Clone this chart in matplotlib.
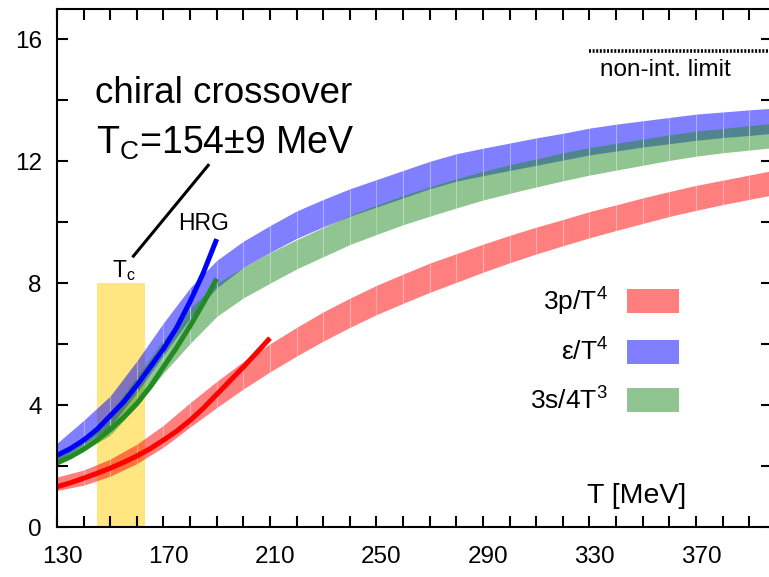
import numpy as np
import matplotlib.pyplot as plt
import matplotlib.transforms as mtransforms
from matplotlib.patches import Patch

plt.rcParams['font.family'] = ['Liberation Sans', 'DejaVu Sans']
plt.rcParams['mathtext.fontset'] = 'custom'
plt.rcParams['mathtext.rm'] = 'Liberation Sans'
plt.rcParams['mathtext.it'] = 'Liberation Sans:italic'
plt.rcParams['mathtext.bf'] = 'Liberation Sans:bold'

# --- lattice bands (T in MeV) ---
T = [130, 140, 150, 160, 170, 180, 190, 200, 210, 220, 230, 240, 250, 260,
     270, 280, 290, 300, 310, 320, 330, 340, 350, 360, 370, 380, 390, 400]

p3_mid = [1.42, 1.62, 1.95, 2.40, 2.98, 3.68, 4.35, 4.98, 5.55, 6.08, 6.58, 7.03, 7.45, 7.82,
          8.18, 8.50, 8.82, 9.12, 9.40, 9.66, 9.92, 10.15, 10.38, 10.60, 10.80, 10.98, 11.15, 11.32]
p3_err = [0.22, 0.25, 0.28, 0.32, 0.36, 0.40, 0.43, 0.45, 0.46, 0.47, 0.48, 0.48, 0.48, 0.48,
          0.48, 0.47, 0.46, 0.45, 0.44, 0.43, 0.43, 0.42, 0.42, 0.41, 0.41, 0.40, 0.40, 0.40]

e_mid = [2.45, 3.10, 3.80, 4.93, 6.17, 7.35, 8.30, 8.95, 9.45, 9.92, 10.30, 10.65, 10.95, 11.25,
         11.55, 11.80, 11.98, 12.15, 12.32, 12.48, 12.65, 12.78, 12.90, 13.01, 13.12, 13.20, 13.27, 13.34]
e_err = [0.30, 0.40, 0.50, 0.52, 0.53, 0.50, 0.45, 0.43, 0.44, 0.45, 0.45, 0.45, 0.45, 0.45,
         0.45, 0.45, 0.45, 0.45, 0.45, 0.44, 0.44, 0.44, 0.43, 0.43, 0.43, 0.42, 0.42, 0.41]

s_mid = [2.20, 2.72, 3.38, 4.45, 5.60, 6.60, 7.45, 8.02, 8.50, 8.95, 9.35, 9.75, 10.08, 10.40,
         10.68, 10.95, 11.20, 11.42, 11.62, 11.82, 12.00, 12.15, 12.30, 12.45, 12.58, 12.68, 12.77, 12.86]
s_err = [0.16, 0.23, 0.36, 0.48, 0.55, 0.58, 0.54, 0.50, 0.50, 0.48, 0.48, 0.48, 0.48, 0.48,
         0.48, 0.48, 0.47, 0.47, 0.46, 0.46, 0.45, 0.44, 0.43, 0.42, 0.41, 0.40, 0.40, 0.40]

# --- HRG curves ---
T_hrg_p = [130, 135, 140, 145, 150, 155, 160, 165, 170, 175, 180, 185, 190, 195, 200, 205, 210]
p3_hrg = [1.32, 1.45, 1.60, 1.76, 1.93, 2.12, 2.33, 2.57, 2.85, 3.15, 3.50, 3.90, 4.35, 4.80,
          5.25, 5.72, 6.20]
T_hrg = [130, 135, 140, 145, 150, 155, 160, 165, 170, 175, 180, 185, 190]
e_hrg = [2.35, 2.57, 2.85, 3.20, 3.65, 4.10, 4.65, 5.25, 5.85, 6.55, 7.40, 8.35, 9.45]
s_hrg = [2.10, 2.30, 2.55, 2.85, 3.20, 3.60, 4.05, 4.60, 5.25, 5.90, 6.60, 7.35, 8.15]

# --- crossover and free gas ---
tc, tc_err, tc_top = 154, 9, 8.0
sb_limit = 15.63
sb_range = [330, 400]

labels = ['3p/T$^4$', 'ε/T$^4$', '3s/4T$^3$']
colors = ['#ff0000', '#0000ff', '#228b22']

fig = plt.figure(figsize=(7.69, 5.77), dpi=100)
ax = fig.add_axes([57 / 769, 50 / 577, 714.5 / 769, 518 / 577])

ax.fill_between([tc - tc_err, tc + tc_err], 0, tc_top, color='#ffe680', lw=0)


def band(mid, err, color):
    lo = np.array(mid) - np.array(err)
    hi = np.array(mid) + np.array(err)
    for i in range(len(T) - 1):
        ax.fill_between(T[i:i + 2], lo[i:i + 2], hi[i:i + 2], color=color, alpha=0.5, lw=0)
    # faint seams between the boxes
    ax.vlines(T[1:-1], lo[1:-1], hi[1:-1], colors='white', lw=0.8, alpha=0.3)


band(p3_mid, p3_err, colors[0])
band(e_mid, e_err, colors[1])
band(s_mid, s_err, colors[2])

ax.plot(T_hrg_p, p3_hrg, color=colors[0], lw=3.6, solid_capstyle='butt')
ax.plot(T_hrg, e_hrg, color=colors[1], lw=3.6, solid_capstyle='butt')
ax.plot(T_hrg, s_hrg, color=colors[2], lw=3.6, solid_capstyle='butt')

ax.plot(sb_range, [sb_limit, sb_limit], color='black', lw=2.6, ls=(0, (0.55, 0.45)))
ax.text(333.9, 14.79, 'non-int. limit', fontsize=17.5, va='baseline')

# annotations
ax.plot([158.7, 186.8], [8.89, 11.87], color='black', lw=2.2)
ax.text(144.3, 13.9, 'chiral crossover', fontsize=26.5, va='baseline')
ax.text(144.6, 12.26, 'T$_\\mathrm{C}$=154±9 MeV', fontsize=27, va='baseline')
ax.text(175.4, 9.74, 'HRG', fontsize=16.5, va='baseline')
ax.text(150.7, 8.2, 'T$_\\mathrm{c}$', fontsize=16.5, va='baseline')
ax.text(329.1, 0.8, 'T [MeV]', fontsize=20.5, va='baseline')

handles = [Patch(facecolor=c, alpha=0.5, lw=0) for c in colors]
ax.legend(handles, labels, loc='center right', bbox_to_anchor=(0.871, 0.342),
          markerfirst=False, frameon=False, fontsize=19, handlelength=2.0,
          handleheight=1.0, labelspacing=0.8, handletextpad=0.7,
          borderpad=0, borderaxespad=0)

ax.set_xlim(130, 398.4)
ax.set_ylim(0, 17)
ax.set_xticks(range(130, 400, 40))
ax.set_xticks(range(130, 400, 10), minor=True)
ax.set_yticks([0, 4, 8, 12, 16])
ax.set_yticks(range(0, 17, 2), minor=True)
ax.tick_params(which='both', direction='in', top=True, right=True, length=8, width=1.5)
ax.tick_params(axis='x', labelsize=17.5, pad=14)
ax.tick_params(axis='y', labelsize=17.5, pad=11)
for s in ax.spines.values():
    s.set_linewidth(1.5)

# x tick labels sit a little right of their ticks in the original
shift = mtransforms.ScaledTranslation(0.05, 0, fig.dpi_scale_trans)
for lab in ax.get_xticklabels():
    lab.set_transform(lab.get_transform() + shift)

fig.savefig('out.png', dpi=100)
